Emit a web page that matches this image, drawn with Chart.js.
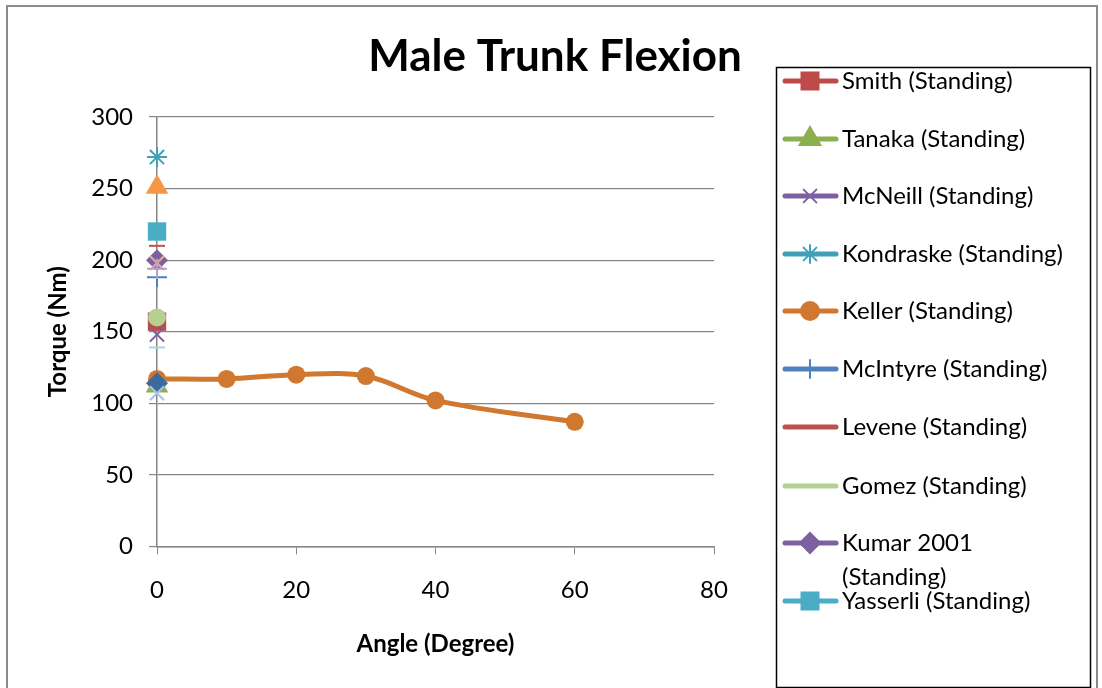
<!DOCTYPE html>
<html>
<head>
<meta charset="utf-8">
<script src="https://cdn.jsdelivr.net/npm/chart.js@4.4.0/dist/chart.umd.min.js"></script>
<style>
  body { margin: 0; background: #fff; }
  #wrap { position: relative; width: 1102px; height: 688px; overflow: hidden; }
  #frame { position: absolute; left: 6px; top: 5px; width: 1088px; height: 700px; border: 2px solid #8c8c8c; }
  canvas { position: absolute; left: 0; top: 0; }
</style>
</head>
<body>
<div id="wrap">
  <div id="frame"></div>
  <canvas id="myChart" width="1102" height="688"></canvas>
</div>
<script>
// series data (angle in degrees, torque in Nm)
var seriesNames = ['Smith (Standing)', 'Tanaka (Standing)', 'McNeill (Standing)', 'Kondraske (Standing)',
  'Keller (Standing)', 'McIntyre (Standing)', 'Levene (Standing)', 'Gomez (Standing)',
  'Kumar 2001 (Standing)', 'Yasserli (Standing)',
  'Series 11', 'Series 12', 'Series 13', 'Series 14', 'Series 15', 'Series 16'];
var seriesAngles = [[0], [0], [0], [0], [0, 10, 20, 30, 40, 60], [0], [0], [0], [0], [0],
  [0], [0], [0], [0], [0], [0]];
var seriesTorque = [[157], [112], [148], [272], [117, 117, 120, 119, 102, 87], [188], [210], [160], [200], [220],
  [251], [198], [194], [139], [114], [107]];
var seriesColors = ['#BE4B48', '#8DB04F', '#7D60A0', '#3FA0B8', '#D0782F', '#4F81BD', '#C0504D', '#B6CF92',
  '#7D60A0', '#4BACC6', '#F79646', '#E6A9A0', '#B3A2C7', '#A8D6E4', '#3A6A9E', '#A9C2E2'];
var seriesMarkers = ['rect', 'triangle', 'crossRot', 'star', 'circle', 'cross', 'line', 'circle',
  'rectRot', 'rect', 'triangle', 'crossRot', 'cross', 'line', 'rectRot', 'crossRot'];
var xTicks = [0, 20, 40, 60, 80];
var yTicks = [0, 50, 100, 150, 200, 250, 300];
var legendCount = 10;

var FONT = 'Lato, "Open Sans", sans-serif';

function markerSize(style) {
  if (style == 'rect') return 13;
  if (style == 'triangle') return 13;
  if (style == 'rectRot') return 11;
  if (style == 'line') return 8;
  return 10;
}

var datasets = seriesNames.map(function(name, i) {
  var pts = seriesAngles[i].map(function(a, j) { return { x: a, y: seriesTorque[i][j] }; });
  var st = seriesMarkers[i];
  var filled = (st == 'rect' || st == 'triangle' || st == 'circle' || st == 'rectRot');
  return {
    label: name,
    data: pts,
    showLine: pts.length > 1,
    tension: 0.35,
    borderColor: seriesColors[i],
    backgroundColor: seriesColors[i],
    borderWidth: 5,
    pointStyle: st,
    pointRadius: markerSize(st) - (st == 'circle' ? 1 : 0),
    pointBorderWidth: filled ? 0 : 2,
    pointBackgroundColor: seriesColors[i],
    pointBorderColor: seriesColors[i],
    clip: false,
    order: seriesNames.length - i
  };
});

// title + boxed legend drawn on the canvas
var extras = {
  id: 'extras',
  afterDraw: function(chart) {
    var ctx = chart.ctx;
    ctx.save();
    ctx.fillStyle = '#000';
    ctx.font = 'bold 44px ' + FONT;
    ctx.textAlign = 'center';
    ctx.textBaseline = 'middle';
    ctx.fillText('Male Trunk Flexion', 555, 57);

    ctx.strokeStyle = '#000';
    ctx.lineWidth = 1.5;
    ctx.strokeRect(776.5, 67.5, 314, 620);

    ctx.font = '24px ' + FONT;
    ctx.textAlign = 'left';
    var rows = [81, 139, 196, 254, 311, 369, 427, 486, 543, 601];
    for (var i = 0; i < legendCount; i++) {
      var y = rows[i];
      var c = seriesColors[i];
      ctx.strokeStyle = c;
      ctx.lineWidth = 5;
      ctx.lineCap = 'round';
      ctx.beginPath();
      ctx.moveTo(785, y);
      ctx.lineTo(836, y);
      ctx.stroke();
      if (seriesMarkers[i] != 'line' && !(i == 7)) {
        ctx.fillStyle = c;
        ctx.lineWidth = 2;
        Chart.helpers.drawPoint(ctx, {
          pointStyle: seriesMarkers[i],
          radius: markerSize(seriesMarkers[i]) - 1,
          rotation: 0,
          borderWidth: 2
        }, 810, y);
      }
      ctx.fillStyle = '#000';
      var txt = seriesNames[i];
      if (txt == 'Kumar 2001 (Standing)') {
        ctx.fillText('Kumar 2001', 842, y);
        ctx.fillText('(Standing)', 842, y + 34);
      } else {
        ctx.fillText(txt, 842, y);
      }
    }
    ctx.restore();
  }
};

var ctx = document.getElementById('myChart');
var chart = new Chart(ctx, {
  type: 'scatter',
  data: { datasets: datasets },
  options: {
    responsive: false,
    animation: false,
    events: [],
    layout: { padding: { left: 40, right: 388, top: 117, bottom: 25 } },
    plugins: { legend: { display: false }, title: { display: false }, tooltip: { enabled: false } },
    scales: {
      x: {
        type: 'linear', min: 0, max: 80,
        afterBuildTicks: function(axis) { axis.ticks = xTicks.map(function(v) { return { value: v }; }); },
        grid: { drawOnChartArea: false, drawTicks: true, tickLength: 8, color: '#868686' },
        border: { color: '#868686', width: 1.5 },
        ticks: { color: '#000', font: { family: FONT, size: 24 }, padding: 21, maxRotation: 0 },
        title: { display: true, text: 'Angle (Degree)', color: '#000', font: { family: FONT, size: 24, weight: 'bold' }, padding: { top: 5 } }
      },
      y: {
        min: 0, max: 300,
        afterBuildTicks: function(axis) { axis.ticks = yTicks.map(function(v) { return { value: v }; }); },
        afterFit: function(axis) { axis.width = 117; },
        grid: { color: '#868686', tickLength: 8, lineWidth: 1.2 },
        border: { color: '#868686', width: 1.5 },
        ticks: { color: '#000', font: { family: FONT, size: 24 }, padding: 16 },
        title: { display: true, text: 'Torque (Nm)', color: '#000', font: { family: FONT, size: 24, weight: 'bold' }, padding: { top: 4, bottom: 0 } }
      }
    }
  },
  plugins: [extras]
});
</script>
</body>
</html>
